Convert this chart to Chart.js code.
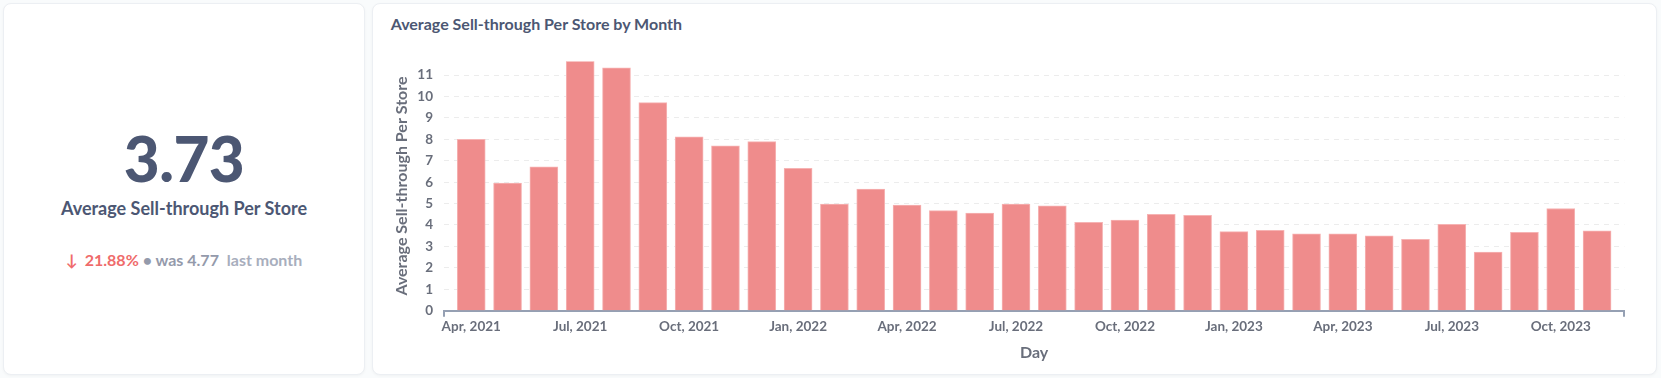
<!DOCTYPE html>
<html>
<head>
<meta charset="utf-8">
<script src="https://cdn.jsdelivr.net/npm/chart.js@4"></script>
<style>
  html, body { margin: 0; padding: 0; background: #f9fbfc; font-family: Lato, 'Noto Sans', sans-serif; }
  body { width: 1661px; height: 378px; position: relative; overflow: hidden; }
  .card { position: absolute; background: #fff; border: 1px solid #eceff3; border-radius: 8px; box-shadow: 0 1px 3px rgba(0,0,0,0.04); box-sizing: border-box; }
  #kpi { left: 3px; top: 3px; width: 362px; height: 372px; }
  #chartCard { left: 372px; top: 3px; width: 1285px; height: 372px; }
  .abs { position: absolute; left: 0; right: 0; text-align: center; line-height: 1; white-space: nowrap; }
  #kpiValue { top: 123px; font-size: 62px; font-weight: 900; color: #4c5773; letter-spacing: -0.5px; }
  #kpiLabel { top: 194.5px; font-size: 18px; font-weight: 700; color: #4c5773; }
  #kpiCompare { top: 247.5px; font-size: 16px; font-weight: 700; color: #949aab; }
  #kpiCompare .down { color: #ef6b6b; }
  #kpiCompare .arrow { color: #ef6b6b; font-weight: 700; margin-right: 7px; }
  #kpiCompare .lite { color: #a8aebd; margin-left: 4px; }
  #title { position: absolute; left: 17.7px; top: 12px; font-size: 16px; font-weight: 700; color: #4c5773; line-height: 1; }
  #wrap { position: absolute; left: 0; top: 37px; width: 1283px; height: 333px; }
</style>
</head>
<body>
<div class="card" id="kpi">
  <div class="abs" id="kpiValue">3.73</div>
  <div class="abs" id="kpiLabel">Average Sell-through Per Store</div>
  <div class="abs" id="kpiCompare"><span class="arrow">&#8595;</span><span class="down">21.88%</span> &#8226; was 4.77 <span class="lite">last month</span></div>
</div>
<div class="card" id="chartCard">
  <div id="title">Average Sell-through Per Store by Month</div>
  <div id="wrap"><canvas id="chart"></canvas></div>
</div>
<script>
// monthly categories, Apr 2021 .. Nov 2023
const months = [
  'Apr, 2021', 'May, 2021', 'Jun, 2021', 'Jul, 2021', 'Aug, 2021', 'Sep, 2021',
  'Oct, 2021', 'Nov, 2021', 'Dec, 2021',
  'Jan, 2022', 'Feb, 2022', 'Mar, 2022', 'Apr, 2022', 'May, 2022', 'Jun, 2022',
  'Jul, 2022', 'Aug, 2022', 'Sep, 2022', 'Oct, 2022', 'Nov, 2022', 'Dec, 2022',
  'Jan, 2023', 'Feb, 2023', 'Mar, 2023', 'Apr, 2023', 'May, 2023', 'Jun, 2023',
  'Jul, 2023', 'Aug, 2023', 'Sep, 2023', 'Oct, 2023', 'Nov, 2023',
];
const sellThrough = [
  8.00, 5.96, 6.72, 11.64, 11.33, 9.71, 8.11, 7.69, 7.89,
  6.64, 4.98, 5.68, 4.93, 4.67, 4.56, 4.98, 4.89, 4.12, 4.23, 4.50, 4.45,
  3.69, 3.75, 3.59, 3.59, 3.49, 3.33, 4.03, 2.74, 3.66, 4.77, 3.73,
];
// every third month gets a label
const labelIdx = [0, 3, 6, 9, 12, 15, 18, 21, 24, 27, 30];
const yTicks = [0, 1, 2, 3, 4, 5, 6, 7, 8, 9, 10, 11];

const axisColor = '#95a0b3';
const textColor = '#696e7b';
const barColor = '#ef8c8c';
const xMin = -0.75, xMax = months.length - 1 + 0.75;

const ctx = document.getElementById('chart').getContext('2d');
new Chart(ctx, {
  type: 'bar',
  data: {
    datasets: [{
      label: 'Average Sell-through Per Store',
      data: sellThrough.map((v, i) => ({ x: i, y: v })),
      backgroundColor: barColor,
      borderColor: '#f6b3b3',
      borderWidth: 1,
      borderSkipped: 'bottom',
      barThickness: 28,
    }],
  },
  options: {
    responsive: true,
    maintainAspectRatio: false,
    animation: false,
    layout: { padding: { left: 15.4, right: 31.7, top: 20.3, bottom: 7.4 } },
    plugins: { legend: { display: false }, tooltip: { enabled: false } },
    scales: {
      x: {
        type: 'linear',
        offset: false,
        min: xMin,
        max: xMax,
        afterFit: s => { s.height = 55.9; },
        afterBuildTicks: s => {
          s.ticks = [xMin, ...labelIdx, xMax].map(v => ({ value: v }));
        },
        ticks: {
          autoSkip: false,
          maxRotation: 0,
          padding: 2,
          font: { family: 'Lato', size: 13.5, weight: '700' },
          color: textColor,
          callback: v => (Number.isInteger(v) ? months[v] : ''),
        },
        grid: {
          offset: false,
          drawOnChartArea: false,
          drawTicks: true,
          tickLength: 6,
          lineWidth: 2,
          color: c => (c.tick && (c.tick.value === xMin || c.tick.value === xMax) ? axisColor : 'rgba(0,0,0,0)'),
        },
        border: { display: true, color: axisColor, width: 2 },
        title: {
          display: true,
          text: 'Day',
          font: { family: 'Lato', size: 16, weight: '700' },
          color: textColor,
          padding: { top: 4, bottom: 4 },
        },
      },
      y: {
        min: 0,
        max: 11.64,
        afterFit: s => { s.width = 55.6; },
        afterBuildTicks: s => { s.ticks = yTicks.map(v => ({ value: v })); },
        ticks: {
          padding: 11,
          font: { family: 'Lato', size: 13.5, weight: '700' },
          color: textColor,
        },
        grid: { color: '#ececec', drawTicks: false, lineWidth: 1 },
        border: { display: false, dash: [5, 5] },
        title: {
          display: true,
          text: 'Average Sell-through Per Store',
          font: { family: 'Lato', size: 16, weight: '700' },
          color: textColor,
          padding: { top: 4, bottom: 4 },
        },
      },
    },
  },
});
</script>
</body>
</html>
